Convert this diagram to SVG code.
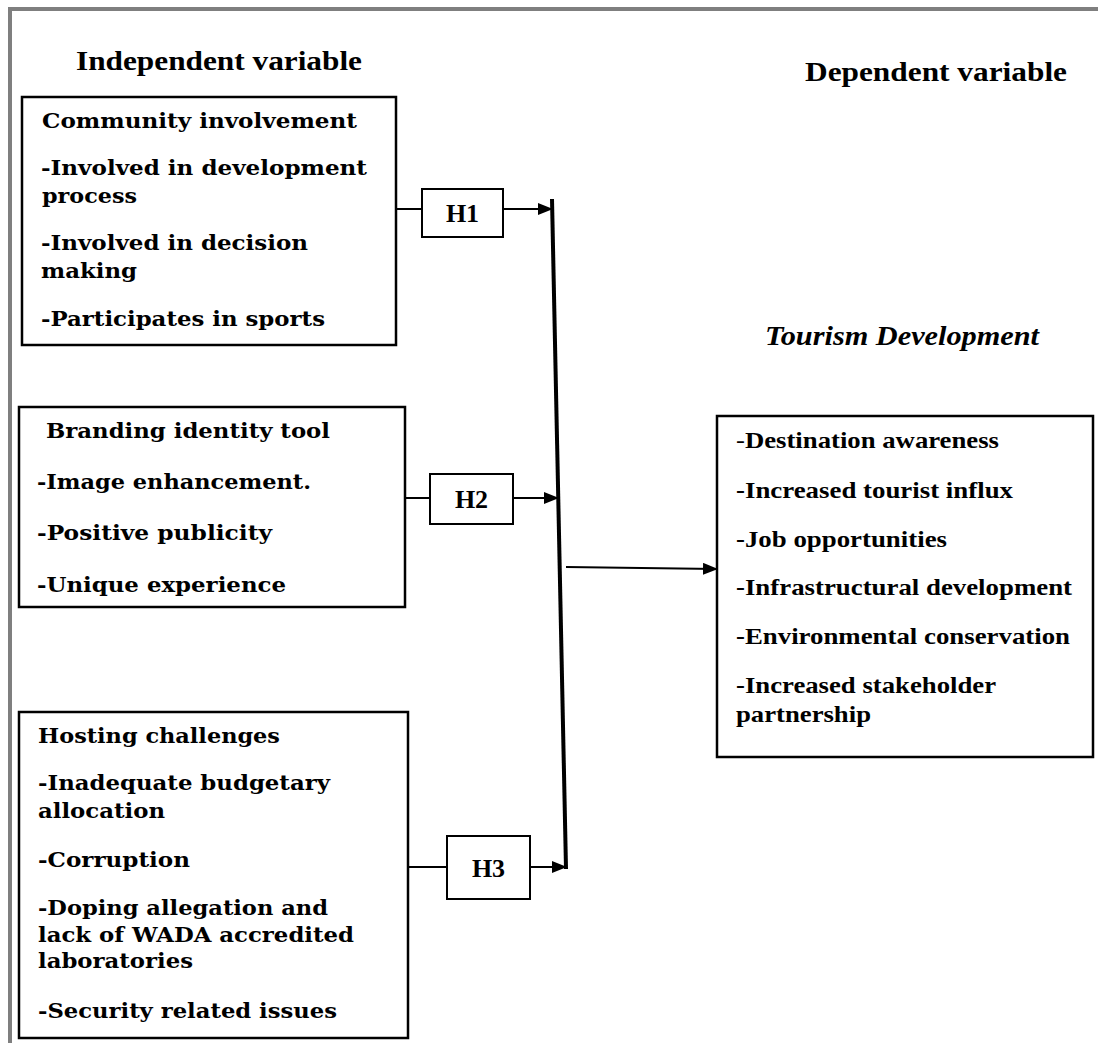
<svg xmlns="http://www.w3.org/2000/svg" width="1098" height="1043" viewBox="0 0 1098 1043">
<style>
.frame{fill:none;stroke:#7f7f7f;stroke-width:4}
.box{fill:#fff;stroke:#000;stroke-width:2.5}
.hbox{fill:#fff;stroke:#000;stroke-width:2}
.ln{fill:none;stroke:#000;stroke-width:2}
.bar{fill:none;stroke:#000;stroke-width:4}
.cs{font-family:"DejaVu Serif","Liberation Serif",serif;font-weight:bold;font-size:21px;fill:#000}
.tm{font-family:"Liberation Serif","Times New Roman",serif;font-weight:bold;fill:#000}
.hd{font-size:27px}
.rt{font-size:24px}
.hl{font-size:26px}
</style>
<defs>
<marker id="ah" markerUnits="userSpaceOnUse" markerWidth="15" markerHeight="12" refX="14" refY="6" orient="auto">
<path d="M0,0 L15,6 L0,12 Z" fill="#000"/>
</marker>
</defs>
<rect width="1098" height="1043" fill="#fff"/>
<path class="frame" d="M10,1043 L10,9 L1098,9"/>

<text class="tm hd" x="76" y="70" textLength="286" lengthAdjust="spacingAndGlyphs">Independent variable</text>
<text class="tm hd" x="805" y="81" textLength="262" lengthAdjust="spacingAndGlyphs">Dependent variable</text>
<text class="tm hd" x="765" y="345" font-style="italic" textLength="274" lengthAdjust="spacingAndGlyphs">Tourism Development</text>

<g id="connectors">
<line class="ln" x1="396" y1="209" x2="422" y2="209"/>
<line class="ln" x1="503" y1="209" x2="552" y2="209" marker-end="url(#ah)"/>
<line class="ln" x1="405" y1="498" x2="430" y2="498"/>
<line class="ln" x1="513" y1="498" x2="558" y2="498" marker-end="url(#ah)"/>
<line class="ln" x1="408" y1="867" x2="447" y2="867"/>
<line class="ln" x1="530" y1="867" x2="566" y2="867" marker-end="url(#ah)"/>
<line class="bar" x1="552" y1="199" x2="566" y2="869"/>
<line class="ln" x1="566" y1="567" x2="717" y2="569" marker-end="url(#ah)"/>
</g>

<g id="community">
<rect class="box" x="22" y="97" width="374" height="248"/>
<text class="cs" x="42" y="128" textLength="315" lengthAdjust="spacingAndGlyphs">Community involvement</text>
<text class="cs" x="41" y="175" textLength="326" lengthAdjust="spacingAndGlyphs">-Involved in development</text>
<text class="cs" x="42" y="203" textLength="95" lengthAdjust="spacingAndGlyphs">process</text>
<text class="cs" x="41" y="250" textLength="267" lengthAdjust="spacingAndGlyphs">-Involved in decision</text>
<text class="cs" x="41" y="278" textLength="96" lengthAdjust="spacingAndGlyphs">making</text>
<text class="cs" x="41" y="326" textLength="284" lengthAdjust="spacingAndGlyphs">-Participates in sports</text>
</g>

<g id="branding">
<rect class="box" x="19" y="407" width="386" height="200"/>
<text class="cs" x="46" y="438" textLength="284" lengthAdjust="spacingAndGlyphs">Branding identity tool</text>
<text class="cs" x="37" y="489" textLength="274" lengthAdjust="spacingAndGlyphs">-Image enhancement.</text>
<text class="cs" x="37" y="540" textLength="235" lengthAdjust="spacingAndGlyphs">-Positive publicity</text>
<text class="cs" x="37" y="592" textLength="249" lengthAdjust="spacingAndGlyphs">-Unique experience</text>
</g>

<g id="hosting">
<rect class="box" x="19" y="712" width="389" height="326"/>
<text class="cs" x="38" y="743" textLength="242" lengthAdjust="spacingAndGlyphs">Hosting challenges</text>
<text class="cs" x="38" y="790" textLength="292" lengthAdjust="spacingAndGlyphs">-Inadequate budgetary</text>
<text class="cs" x="38" y="818" textLength="127" lengthAdjust="spacingAndGlyphs">allocation</text>
<text class="cs" x="38" y="867" textLength="152" lengthAdjust="spacingAndGlyphs">-Corruption</text>
<text class="cs" x="38" y="915" textLength="290" lengthAdjust="spacingAndGlyphs">-Doping allegation and</text>
<text class="cs" x="38" y="942" textLength="316" lengthAdjust="spacingAndGlyphs">lack of WADA accredited</text>
<text class="cs" x="38" y="968" textLength="155" lengthAdjust="spacingAndGlyphs">laboratories</text>
<text class="cs" x="38" y="1018" textLength="299" lengthAdjust="spacingAndGlyphs">-Security related issues</text>
</g>

<g id="h1">
<rect class="hbox" x="422" y="189" width="81" height="48"/>
<text class="tm hl" x="462.5" y="222" text-anchor="middle">H1</text>
</g>
<g id="h2">
<rect class="hbox" x="430" y="474" width="83" height="50"/>
<text class="tm hl" x="471.5" y="508" text-anchor="middle">H2</text>
</g>
<g id="h3">
<rect class="hbox" x="447" y="836" width="83" height="63"/>
<text class="tm hl" x="488.5" y="877" text-anchor="middle">H3</text>
</g>

<g id="tourism">
<rect class="box" x="717" y="416" width="376" height="341"/>
<text class="tm rt" x="736" y="448" textLength="263" lengthAdjust="spacingAndGlyphs"><tspan font-weight="normal">-</tspan>Destination awareness</text>
<text class="tm rt" x="736" y="498" textLength="277" lengthAdjust="spacingAndGlyphs">-Increased tourist influx</text>
<text class="tm rt" x="736" y="547" textLength="211" lengthAdjust="spacingAndGlyphs">-Job opportunities</text>
<text class="tm rt" x="736" y="595" textLength="336" lengthAdjust="spacingAndGlyphs">-Infrastructural development</text>
<text class="tm rt" x="736" y="644" textLength="334" lengthAdjust="spacingAndGlyphs">-Environmental conservation</text>
<text class="tm rt" x="736" y="693" textLength="260" lengthAdjust="spacingAndGlyphs">-Increased stakeholder</text>
<text class="tm rt" x="736" y="722" textLength="135" lengthAdjust="spacingAndGlyphs">partnership</text>
</g>
</svg>
